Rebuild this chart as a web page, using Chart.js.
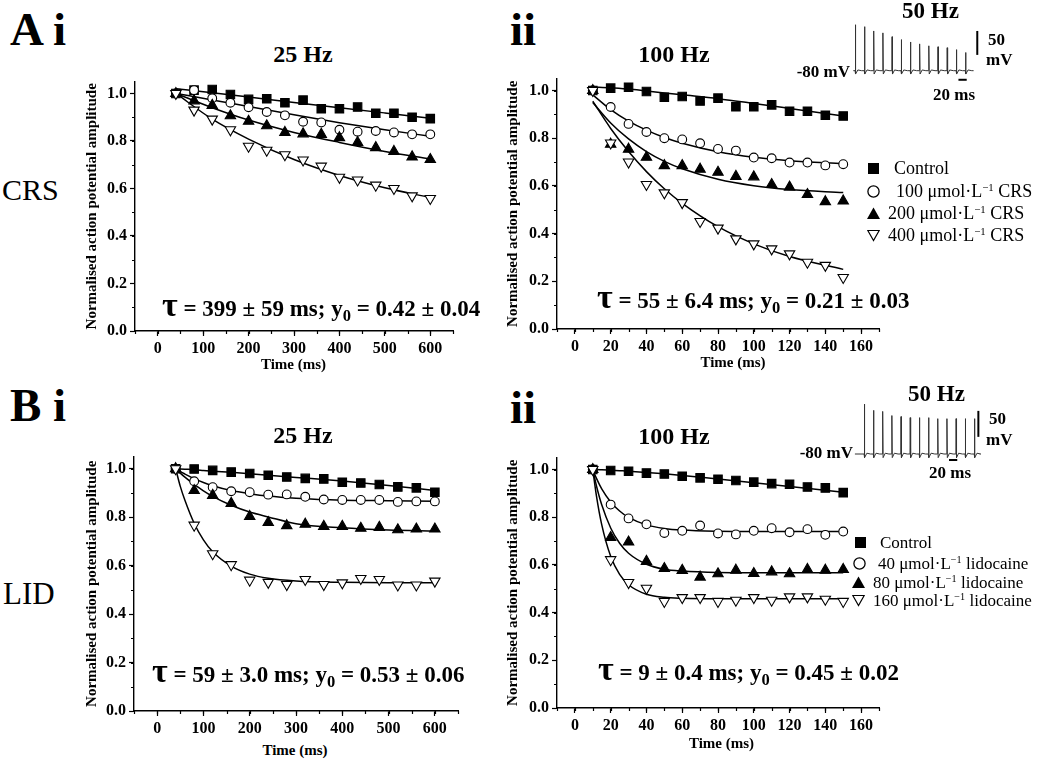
<!DOCTYPE html>
<html>
<head>
<meta charset="utf-8">
<title>Use-dependent block of action potentials</title>
<script src="https://cdn.jsdelivr.net/npm/chart.js@4.4.1/dist/chart.umd.min.js"></script>
<style>
  body { margin: 0; width: 1039px; height: 763px; position: relative; overflow: hidden; background: #fff;
         font-family: "Liberation Serif", "Times New Roman", serif; color: #000; }
  canvas { position: absolute; }
  .t { position: absolute; line-height: 1; white-space: nowrap; }
  .b { font-weight: bold; }
  .tau { font-size: 34px; line-height: 0; }
  sub { font-size: 0.72em; vertical-align: -0.32em; line-height: 0; }
  sup { font-size: 0.6em; vertical-align: 0.6em; line-height: 0; }
  svg.mk { position: absolute; }
</style>
</head>
<body>
<canvas id="cA1"></canvas>
<canvas id="cA2"></canvas>
<canvas id="cB1"></canvas>
<canvas id="cB2"></canvas>
<canvas id="insA"></canvas>
<canvas id="insB"></canvas>
<script>
// ---------------- data ----------------
const t25 = [40, 80, 120, 160, 200, 240, 280, 320, 360, 400, 440, 480, 520, 560, 600];
const t100 = [10, 20, 30, 40, 50, 60, 70, 80, 90, 100, 110, 120, 130, 140, 150];

// A i  CRS, 25 Hz
const crs25_ctrl = [1.00, 1.014, 1.017, 0.996, 0.975, 0.978, 0.961, 0.972, 0.936, 0.936, 0.943, 0.917, 0.917, 0.900, 0.894];
const crs25_100  = [1.00, 1.014, 0.980, 0.961, 0.942, 0.922, 0.908, 0.881, 0.878, 0.847, 0.839, 0.842, 0.836, 0.828, 0.828];
const crs25_200  = [1.00, 0.969, 0.950, 0.906, 0.883, 0.864, 0.836, 0.830, 0.828, 0.814, 0.794, 0.772, 0.756, 0.733, 0.722];
const crs25_400  = [1.00, 0.930, 0.892, 0.847, 0.778, 0.761, 0.742, 0.720, 0.694, 0.647, 0.636, 0.614, 0.600, 0.569, 0.558];
const crs25Fit_t    = [40, 120, 200, 300, 400, 500, 600];
const crs25Fit_ctrl = [1.02, 1.003, 0.985, 0.962, 0.940, 0.918, 0.896];
const crs25Fit_100  = [1.00, 0.973, 0.945, 0.910, 0.877, 0.847, 0.820];
const crs25Fit_200  = [1.00, 0.940, 0.888, 0.836, 0.794, 0.756, 0.724];
const crs25Fit_400  = [1.00, 0.892, 0.808, 0.722, 0.655, 0.603, 0.562];

// A ii  CRS, 100 Hz
const crs100_ctrl = [1.00, 1.010, 1.014, 0.996, 0.972, 0.975, 0.956, 0.968, 0.932, 0.932, 0.940, 0.913, 0.913, 0.896, 0.893];
const crs100_100  = [1.00, 0.931, 0.860, 0.826, 0.800, 0.795, 0.779, 0.755, 0.748, 0.719, 0.716, 0.698, 0.698, 0.686, 0.691];
const crs100_200  = [1.00, 0.775, 0.754, 0.720, 0.685, 0.685, 0.670, 0.657, 0.640, 0.638, 0.606, 0.595, 0.564, 0.534, 0.537];
const crs100_400  = [1.00, 0.780, 0.700, 0.606, 0.571, 0.530, 0.451, 0.423, 0.378, 0.357, 0.336, 0.315, 0.280, 0.267, 0.216];
const crs100Fit_t    = [10, 20, 30, 40, 50, 60, 80, 100, 120, 150];
const crs100Fit_ctrl = [1.015, 1.012, 1.006, 0.998, 0.990, 0.982, 0.966, 0.946, 0.925, 0.893];
const crs100Fit_100  = [0.982, 0.920, 0.872, 0.834, 0.803, 0.779, 0.743, 0.720, 0.706, 0.693];
const crs100Fit_200  = [0.950, 0.864, 0.797, 0.744, 0.703, 0.672, 0.628, 0.601, 0.585, 0.572];
const crs100Fit_400  = [0.955, 0.841, 0.744, 0.660, 0.588, 0.527, 0.429, 0.357, 0.304, 0.250];

// B i  LID, 25 Hz
const lid25_ctrl = [1.00, 0.999, 0.993, 0.986, 0.980, 0.973, 0.966, 0.960, 0.958, 0.944, 0.941, 0.935, 0.925, 0.921, 0.903];
const lid25_40   = [1.00, 0.948, 0.924, 0.907, 0.903, 0.893, 0.894, 0.884, 0.873, 0.871, 0.871, 0.871, 0.863, 0.865, 0.865];
const lid25_80   = [1.00, 0.910, 0.890, 0.857, 0.803, 0.778, 0.765, 0.771, 0.762, 0.762, 0.754, 0.758, 0.748, 0.751, 0.751];
const lid25_160  = [1.00, 0.767, 0.649, 0.604, 0.540, 0.531, 0.522, 0.543, 0.522, 0.529, 0.547, 0.543, 0.520, 0.520, 0.536];
const lid25Fit_t    = [40, 50, 60, 80, 100, 120, 160, 200, 240, 300, 400, 500, 600];
const lid25Fit_ctrl = [1.00, 0.999, 0.998, 0.996, 0.993, 0.990, 0.985, 0.979, 0.973, 0.964, 0.949, 0.931, 0.910];
const lid25Fit_40   = [1.00, 0.988, 0.978, 0.959, 0.943, 0.930, 0.910, 0.897, 0.887, 0.878, 0.870, 0.868, 0.866];
const lid25Fit_80   = [1.00, 0.982, 0.965, 0.935, 0.909, 0.886, 0.849, 0.821, 0.801, 0.773, 0.756, 0.747, 0.743];
const lid25Fit_160  = [1.00, 0.927, 0.870, 0.775, 0.706, 0.657, 0.598, 0.565, 0.548, 0.537, 0.531, 0.529, 0.529];

// B ii  LID, 100 Hz
const lid100_ctrl = [1.00, 0.996, 0.993, 0.985, 0.981, 0.972, 0.965, 0.959, 0.954, 0.947, 0.941, 0.938, 0.927, 0.923, 0.903];
const lid100_40   = [1.00, 0.853, 0.795, 0.770, 0.734, 0.743, 0.765, 0.732, 0.728, 0.743, 0.754, 0.737, 0.750, 0.726, 0.740];
const lid100_80   = [1.00, 0.715, 0.696, 0.615, 0.585, 0.577, 0.549, 0.563, 0.578, 0.564, 0.571, 0.563, 0.581, 0.578, 0.581];
const lid100_160  = [1.00, 0.622, 0.526, 0.502, 0.447, 0.463, 0.463, 0.447, 0.452, 0.463, 0.452, 0.466, 0.466, 0.456, 0.447];
const lid100Fit_t    = [10, 12, 15, 20, 25, 30, 40, 50, 60, 80, 100, 150];
const lid100Fit_ctrl = [1.00, 1.00, 0.999, 0.997, 0.995, 0.993, 0.988, 0.982, 0.975, 0.960, 0.945, 0.905];
const lid100Fit_40   = [1.00, 0.964, 0.919, 0.864, 0.826, 0.799, 0.768, 0.753, 0.746, 0.741, 0.740, 0.740];
const lid100Fit_80   = [1.00, 0.933, 0.852, 0.755, 0.691, 0.649, 0.603, 0.582, 0.574, 0.568, 0.567, 0.567];
const lid100Fit_160  = [1.00, 0.892, 0.769, 0.636, 0.560, 0.517, 0.477, 0.464, 0.460, 0.458, 0.458, 0.458];

// axis ticks
const ticks25 = [0, 100, 200, 300, 400, 500, 600];
const ticks100 = [0, 20, 40, 60, 80, 100, 120, 140, 160];
const yTicks = [0, 0.2, 0.4, 0.6, 0.8, 1.0];

// inset action-potential trains (50 Hz), peak height above rest in mV
const restMV = -80;
const spikeInterval = 20; // ms
const apPeaksCRS = [96, 92, 83, 79, 71, 65, 60, 56, 52, 50, 48, 44, 38];
const apPeaksLID = [96, 84, 82, 74, 72, 70, 70, 70, 68, 68, 68, 68, 68];

// ---------------- helpers ----------------
const SERIF = '"Liberation Serif", "Times New Roman", serif';
const tickFont = { family: SERIF, size: 16, weight: 'bold' };

const minorTicks = {
  id: 'minorTicks',
  afterDraw(chart, args, o) {
    if (!o.xStep) return;
    const { ctx, scales: { x, y } } = chart;
    ctx.save();
    ctx.strokeStyle = '#000';
    ctx.lineWidth = 1.2;
    ctx.beginPath();
    for (let v = Math.ceil(x.min / o.xStep) * o.xStep; v <= x.max + 1e-9; v += o.xStep) {
      const px = Math.round(x.getPixelForValue(v)) + 0.5;
      ctx.moveTo(px, y.bottom);
      ctx.lineTo(px, y.bottom + 3);
    }
    for (let v = 0; v <= y.max + 1e-9; v += o.yStep) {
      const py = Math.round(y.getPixelForValue(v)) + 0.5;
      ctx.moveTo(x.left, py);
      ctx.lineTo(x.left - 3, py);
    }
    ctx.stroke();
    ctx.restore();
  }
};

const markers = [
  { pointStyle: 'rect', radius: 6, bg: '#000', rotation: 0, order: 4 },
  { pointStyle: 'circle', radius: 4.4, bg: '#fff', rotation: 0, order: 3 },
  { pointStyle: 'triangle', radius: 6, bg: '#000', rotation: 0, order: 2 },
  { pointStyle: 'triangle', radius: 6, bg: '#fff', rotation: 180, order: 1 }
];

function xy(xs, ys) {
  return xs.map((x, i) => ({ x: x, y: ys[i] }));
}

function panel(p) {
  const cv = document.getElementById(p.id);
  const padT = 10, padR = 10;
  const w = Math.round(p.R - p.L + p.yW + padR);
  const h = Math.round(p.B - p.T + padT + p.xH);
  cv.width = w; cv.height = h;
  cv.style.left = (p.L - p.yW) + 'px';
  cv.style.top = (p.T - padT) + 'px';

  const datasets = [];
  p.fits.forEach(f => datasets.push({
    data: xy(p.fitT, f), showLine: true, borderColor: '#000', borderWidth: 1.5,
    pointRadius: 0, cubicInterpolationMode: 'monotone', fill: false, order: 10
  }));
  p.series.forEach((s, i) => {
    const m = markers[i];
    datasets.push({
      data: xy(p.t, s), showLine: false, pointStyle: m.pointStyle, pointRadius: m.radius,
      pointRotation: m.rotation, pointBackgroundColor: m.bg, pointBorderColor: '#000',
      pointBorderWidth: 1.1, order: m.order
    });
  });

  new Chart(cv, {
    type: 'scatter',
    data: { datasets },
    options: {
      responsive: false, animation: false, devicePixelRatio: 1,
      layout: { autoPadding: false, padding: { top: padT, right: padR, left: 0, bottom: 0 } },
      plugins: { legend: { display: false }, tooltip: { enabled: false },
                 minorTicks: { xStep: p.xMinor, yStep: 0.1 } },
      scales: {
        x: {
          type: 'linear', min: p.xMin, max: p.xMax,
          afterBuildTicks: s => { s.ticks = p.xTicks.map(v => ({ value: v })); },
          afterFit: s => { s.height = p.xH; },
          grid: { drawOnChartArea: false, drawTicks: true, tickLength: 5, color: '#000', tickWidth: 1.2 },
          border: { display: true, color: '#000', width: 1.4 },
          ticks: { color: '#000', padding: 3, font: tickFont, maxRotation: 0, autoSkip: false,
                   callback: v => String(v) }
        },
        y: {
          type: 'linear', min: 0, max: 1.05,
          afterBuildTicks: s => { s.ticks = yTicks.map(v => ({ value: v })); },
          afterFit: s => { s.width = p.yW; },
          grid: { drawOnChartArea: false, drawTicks: true, tickLength: 5, color: '#000', tickWidth: 1.2 },
          border: { display: true, color: '#000', width: 1.4 },
          ticks: { color: '#000', padding: 3, font: tickFont, autoSkip: false,
                   callback: v => v.toFixed(1) },
          title: { display: true, text: 'Normalised action potential amplitude', color: '#000',
                   font: { family: SERIF, size: 15, weight: 'bold' }, padding: 0 }
        }
      }
    },
    plugins: [minorTicks]
  });
}

function inset(id, peaks, g) {
  const cv = document.getElementById(id);
  const w = Math.round((g.tMax - g.tMin) * g.pxMs);
  const h = Math.round((g.vMax - g.vMin) * g.pxMV);
  cv.width = w; cv.height = h;
  cv.style.left = (g.x0 + g.tMin * g.pxMs) + 'px';
  cv.style.top = (g.base - (g.vMax - restMV) * g.pxMV) + 'px';

  const trace = [{ x: g.tStart, y: restMV }];
  peaks.forEach((pk, i) => {
    const t = i * spikeInterval;
    trace.push({ x: t, y: restMV }, { x: t + 0.5, y: restMV + pk }, { x: t + 1.4, y: restMV - 7 },
               { x: t + 6, y: restMV + 1.5 }, { x: t + 14, y: restMV });
  });
  trace.push({ x: g.tEnd, y: restMV });

  new Chart(cv, {
    type: 'scatter',
    data: { datasets: [
      { data: trace, showLine: true, borderColor: '#333', borderWidth: 1, pointRadius: 0, tension: 0 },
      { data: g.vBar, showLine: true, borderColor: '#000', borderWidth: 2, pointRadius: 0 },
      { data: g.hBar, showLine: true, borderColor: '#000', borderWidth: 2, pointRadius: 0 }
    ] },
    options: {
      responsive: false, animation: false, devicePixelRatio: 1,
      layout: { autoPadding: false, padding: 0 },
      plugins: { legend: { display: false }, tooltip: { enabled: false } },
      scales: {
        x: { type: 'linear', display: false, min: g.tMin, max: g.tMax },
        y: { type: 'linear', display: false, min: g.vMin, max: g.vMax }
      }
    }
  });
}

function text(html, x, base, size, o) {
  o = o || {};
  const d = document.createElement('div');
  d.className = 't' + (o.bold ? ' b' : '');
  d.style.fontSize = size + 'px';
  d.style.top = (base - 0.8375 * size) + 'px';
  if (o.align === 'center') { d.style.left = x + 'px'; d.style.transform = 'translateX(-50%)'; }
  else if (o.align === 'right') { d.style.right = (1039 - x) + 'px'; }
  else d.style.left = x + 'px';
  d.innerHTML = html;
  document.body.appendChild(d);
}

const markerSvg = [
  '<rect x="1" y="1" width="11" height="11" fill="#000"/>',
  '<circle cx="6.5" cy="6.5" r="5.6" fill="#fff" stroke="#000" stroke-width="1.3"/>',
  '<polygon points="6.5,0.5 13,12 0,12" fill="#000"/>',
  '<polygon points="0.8,1.5 12.2,1.5 6.5,11.5" fill="#fff" stroke="#000" stroke-width="1.2"/>'
];

function legend(items, rows, size) {
  items.forEach((it, i) => {
    const r = rows[i];
    const s = document.createElementNS('http://www.w3.org/2000/svg', 'svg');
    s.setAttribute('class', 'mk');
    s.setAttribute('width', 13); s.setAttribute('height', 13);
    s.style.left = (r.mx - 6.5) + 'px';
    s.style.top = (r.cy - 6.5) + 'px';
    s.innerHTML = markerSvg[i];
    document.body.appendChild(s);
    text(it, r.tx, r.cy + 6, size);
  });
}

// ---------------- panels ----------------
panel({ id: 'cA1', L: 134.5, R: 452, T: 78.7, B: 330.7, yW: 52, xH: 30,
        xMin: -50, xMax: 650, xTicks: ticks25, xMinor: 50,
        t: t25, series: [crs25_ctrl, crs25_100, crs25_200, crs25_400],
        fitT: crs25Fit_t, fits: [crs25Fit_ctrl, crs25Fit_100, crs25Fit_200, crs25Fit_400] });
panel({ id: 'cA2', L: 557, R: 879, T: 76.3, B: 329.3, yW: 53, xH: 30,
        xMin: -10, xMax: 170, xTicks: ticks100, xMinor: 10,
        t: t100, series: [crs100_ctrl, crs100_100, crs100_200, crs100_400],
        fitT: crs100Fit_t, fits: [crs100Fit_ctrl, crs100Fit_100, crs100Fit_200, crs100Fit_400] });
panel({ id: 'cB1', L: 133.5, R: 457, T: 453.5, B: 710.7, yW: 51, xH: 30,
        xMin: -50, xMax: 650, xTicks: ticks25, xMinor: 50,
        t: t25, series: [lid25_ctrl, lid25_40, lid25_80, lid25_160],
        fitT: lid25Fit_t, fits: [lid25Fit_ctrl, lid25Fit_40, lid25Fit_80, lid25Fit_160] });
panel({ id: 'cB2', L: 556.5, R: 878, T: 455.3, B: 708.3, yW: 53, xH: 30,
        xMin: -10, xMax: 170, xTicks: ticks100, xMinor: 10,
        t: t100, series: [lid100_ctrl, lid100_40, lid100_80, lid100_160],
        fitT: lid100Fit_t, fits: [lid100Fit_ctrl, lid100Fit_40, lid100Fit_80, lid100Fit_160] });

inset('insA', apPeaksCRS, { x0: 855, base: 71, pxMs: 0.458, pxMV: 0.48, tMin: -22, tMax: 285, vMin: -112, vMax: 28,
  tStart: -4, tEnd: 258,
  vBar: [{ x: 266, y: -47 }, { x: 266, y: 3 }], hBar: [{ x: 225, y: -99 }, { x: 243, y: -99 }] });
inset('insB', apPeaksLID, { x0: 864, base: 454, pxMs: 0.458, pxMV: 0.52, tMin: -22, tMax: 270, vMin: -105, vMax: 22,
  tStart: -20, tEnd: 252,
  vBar: [{ x: 249, y: -47 }, { x: 249, y: 3 }], hBar: [{ x: 185, y: -91.5 }, { x: 203, y: -91.5 }] });

// ---------------- text ----------------
text('A i', 10, 45, 47, { bold: true });
text('ii', 510, 45, 47, { bold: true });
text('B i', 10, 421, 47, { bold: true });
text('ii', 510, 423, 47, { bold: true });
text('25 Hz', 303, 62, 24, { bold: true, align: 'center' });
text('100 Hz', 674, 62, 24, { bold: true, align: 'center' });
text('25 Hz', 303, 443, 24, { bold: true, align: 'center' });
text('100 Hz', 674, 444, 24, { bold: true, align: 'center' });
text('CRS', 2, 200, 30);
text('LID', 3, 604, 31);

text('Time (ms)', 293.5, 370, 15, { bold: true, align: 'center' });
text('Time (ms)', 733, 368, 15, { bold: true, align: 'center' });
text('Time (ms)', 295, 756, 15, { bold: true, align: 'center' });
text('Time (ms)', 721.5, 749, 15, { bold: true, align: 'center' });

text('<span class="tau">τ</span> = 399 ± 59 ms; y<sub>0</sub> = 0.42 ± 0.04', 162, 316, 23, { bold: true });
text('<span class="tau">τ</span> = 55 ± 6.4 ms; y<sub>0</sub> = 0.21 ± 0.03', 597, 308, 23, { bold: true });
text('<span class="tau">τ</span> = 59 ± 3.0 ms; y<sub>0</sub> = 0.53 ± 0.06', 152, 682, 23, { bold: true });
text('<span class="tau">τ</span> = 9 ± 0.4 ms; y<sub>0</sub> = 0.45 ± 0.02', 598, 680, 23, { bold: true });

// inset labels
text('50 Hz', 902, 18, 23, { bold: true });
text('50', 988, 45, 17, { bold: true });
text('mV', 986, 65, 17, { bold: true });
text('-80 mV', 850, 77, 17, { bold: true, align: 'right' });
text('20 ms', 933, 100, 17, { bold: true });
text('50 Hz', 908, 401, 23, { bold: true });
text('50', 989, 424, 17, { bold: true });
text('mV', 986, 445, 17, { bold: true });
text('-80 mV', 853, 458, 17, { bold: true, align: 'right' });
text('20 ms', 929, 478, 17, { bold: true });

legend(['Control', '100 μmol·L<sup>−1</sup> CRS', '200 μmol·L<sup>−1</sup> CRS', '400 μmol·L<sup>−1</sup> CRS'],
  [{ mx: 873, cy: 168, tx: 894 }, { mx: 873, cy: 191, tx: 896 }, { mx: 873, cy: 213, tx: 888 }, { mx: 873, cy: 235, tx: 888 }], 18);
legend(['Control', '40 μmol·L<sup>−1</sup> lidocaine', '80 μmol·L<sup>−1</sup> lidocaine', '160 μmol·L<sup>−1</sup> lidocaine'],
  [{ mx: 860, cy: 542, tx: 880 }, { mx: 859, cy: 563, tx: 878 }, { mx: 858, cy: 582, tx: 873 }, { mx: 858, cy: 600, tx: 873 }], 17);
</script>
</body>
</html>
